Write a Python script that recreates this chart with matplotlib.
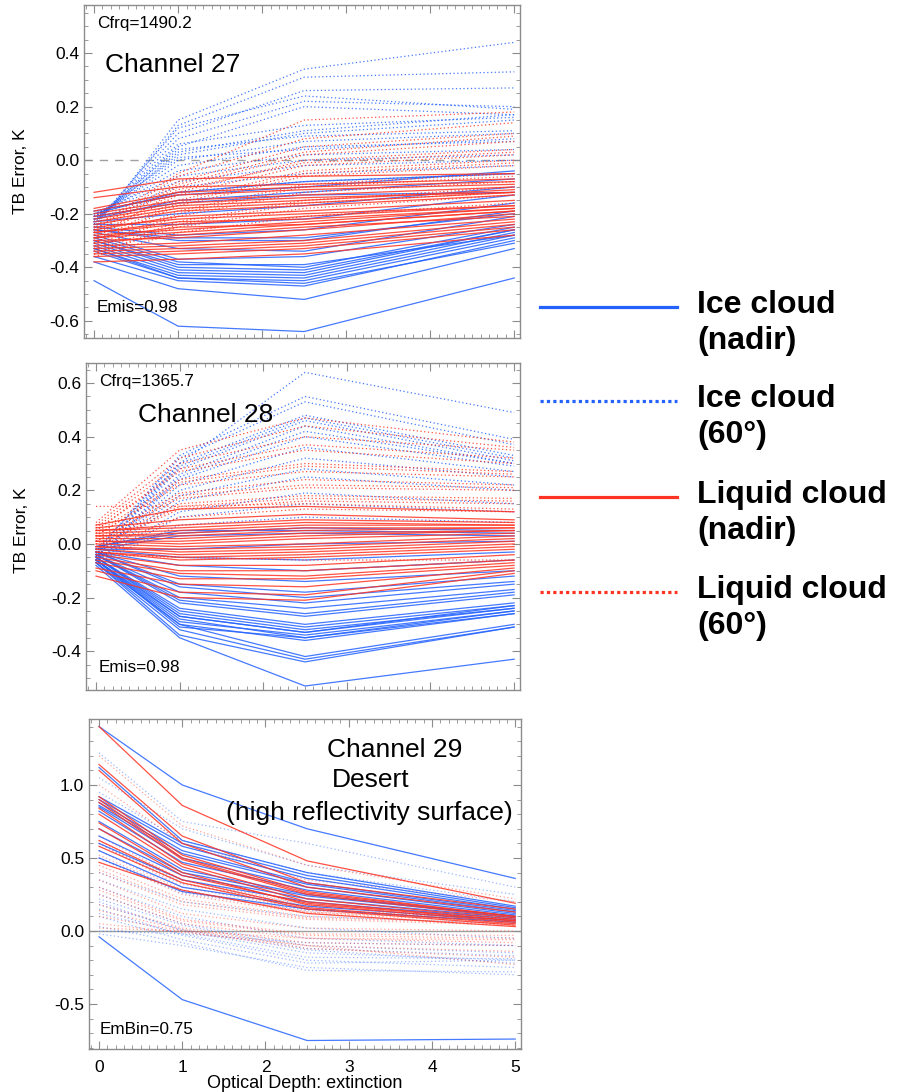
import matplotlib.pyplot as plt
from matplotlib.lines import Line2D
from matplotlib.ticker import MultipleLocator

plt.rcParams['font.family'] = ['Liberation Sans', 'DejaVu Sans']
plt.rcParams['axes.unicode_minus'] = False

# optical depth sample points
depth = [0, 1, 2.5, 5]

# ---- Channel 27 ----
ch27_ice_nadir = [
    [-0.45, -0.62, -0.64, -0.44], [-0.38, -0.48, -0.52, -0.33],
    [-0.36, -0.45, -0.47, -0.30], [-0.34, -0.44, -0.45, -0.29],
    [-0.33, -0.43, -0.44, -0.28], [-0.32, -0.42, -0.43, -0.27],
    [-0.31, -0.41, -0.42, -0.26], [-0.30, -0.40, -0.41, -0.26],
    [-0.29, -0.38, -0.40, -0.25], [-0.28, -0.37, -0.36, -0.24],
    [-0.27, -0.33, -0.34, -0.21], [-0.26, -0.30, -0.30, -0.19],
    [-0.25, -0.28, -0.26, -0.16], [-0.24, -0.24, -0.22, -0.13],
    [-0.23, -0.20, -0.17, -0.10], [-0.22, -0.15, -0.12, -0.07],
    [-0.20, -0.12, -0.08, -0.05], [-0.21, -0.16, -0.13, -0.12],
    [-0.19, -0.13, -0.10, -0.04], [-0.33, -0.44, -0.46, -0.31],
    [-0.30, -0.39, -0.39, -0.28], [-0.26, -0.29, -0.29, -0.20],
]
ch27_ice_60 = [
    [-0.26, 0.15, 0.34, 0.44], [-0.25, 0.13, 0.31, 0.33],
    [-0.24, 0.10, 0.26, 0.27], [-0.24, 0.08, 0.22, 0.20],
    [-0.23, 0.05, 0.20, 0.17], [-0.23, 0.03, 0.11, 0.17],
    [-0.22, 0.02, 0.10, 0.15], [-0.22, 0.00, 0.07, 0.10],
    [-0.21, -0.02, 0.05, 0.07], [-0.21, -0.04, 0.02, 0.04],
    [-0.20, -0.06, 0.00, 0.02], [-0.20, -0.08, -0.02, 0.00],
    [-0.21, -0.10, -0.05, -0.02], [-0.22, -0.12, -0.08, -0.05],
    [-0.24, 0.12, 0.24, 0.19], [-0.23, 0.06, 0.13, 0.16],
    [-0.22, 0.04, 0.09, 0.11], [-0.21, 0.01, 0.04, 0.08],
]
ch27_liq_nadir = [
    [-0.12, -0.07, -0.06, -0.05], [-0.14, -0.10, -0.09, -0.07],
    [-0.18, -0.12, -0.10, -0.08], [-0.20, -0.15, -0.13, -0.10],
    [-0.22, -0.17, -0.15, -0.11], [-0.24, -0.19, -0.17, -0.13],
    [-0.26, -0.21, -0.19, -0.15], [-0.27, -0.24, -0.21, -0.17],
    [-0.28, -0.26, -0.23, -0.18], [-0.29, -0.27, -0.24, -0.19],
    [-0.30, -0.29, -0.26, -0.20], [-0.32, -0.31, -0.28, -0.22],
    [-0.34, -0.33, -0.31, -0.24], [-0.36, -0.35, -0.33, -0.26],
    [-0.38, -0.37, -0.35, -0.28], [-0.31, -0.28, -0.25, -0.21],
    [-0.25, -0.22, -0.20, -0.17], [-0.19, -0.13, -0.11, -0.09],
    [-0.21, -0.16, -0.14, -0.12], [-0.23, -0.18, -0.16, -0.12],
    [-0.27, -0.23, -0.22, -0.18], [-0.29, -0.25, -0.24, -0.19],
    [-0.33, -0.32, -0.30, -0.23], [-0.35, -0.34, -0.32, -0.25],
]
ch27_liq_60 = [
    [-0.25, -0.05, 0.15, 0.18], [-0.26, -0.08, 0.05, 0.10],
    [-0.27, -0.10, 0.02, 0.07], [-0.28, -0.12, 0.00, 0.04],
    [-0.29, -0.13, -0.02, 0.02], [-0.30, -0.15, -0.04, 0.00],
    [-0.31, -0.17, -0.06, -0.02], [-0.32, -0.19, -0.09, -0.05],
    [-0.33, -0.21, -0.12, -0.08], [-0.34, -0.23, -0.15, -0.10],
    [-0.35, -0.25, -0.18, -0.13], [-0.36, -0.27, -0.21, -0.16],
    [-0.26, -0.06, 0.08, 0.14], [-0.27, -0.09, 0.03, 0.09],
    [-0.29, -0.11, -0.01, 0.03], [-0.31, -0.16, -0.05, -0.01],
    [-0.33, -0.20, -0.10, -0.06], [-0.35, -0.24, -0.16, -0.12],
]

# ---- Channel 28 ----
ch28_ice_nadir = [
    [-0.08, -0.35, -0.53, -0.43], [-0.07, -0.34, -0.44, -0.31],
    [-0.07, -0.32, -0.43, -0.31], [-0.07, -0.30, -0.42, -0.30],
    [-0.06, -0.30, -0.36, -0.26], [-0.06, -0.28, -0.35, -0.25],
    [-0.06, -0.27, -0.33, -0.24], [-0.05, -0.26, -0.32, -0.24],
    [-0.05, -0.25, -0.31, -0.23], [-0.05, -0.24, -0.30, -0.22],
    [-0.04, -0.22, -0.27, -0.19], [-0.04, -0.20, -0.24, -0.17],
    [-0.04, -0.18, -0.22, -0.15], [-0.03, -0.15, -0.18, -0.12],
    [-0.03, -0.12, -0.14, -0.10], [-0.03, -0.08, -0.10, -0.06],
    [-0.02, -0.05, -0.06, -0.03], [-0.02, 0.03, 0.04, 0.03],
    [-0.01, 0.04, 0.06, 0.05], [-0.02, -0.02, 0.00, 0.01],
    [-0.06, -0.29, -0.34, -0.25], [-0.05, -0.27, -0.33, -0.23],
    [-0.06, -0.31, -0.35, -0.26], [-0.04, -0.21, -0.26, -0.18],
    [-0.03, -0.16, -0.20, -0.14], [-0.01, 0.05, 0.05, 0.04],
]
ch28_ice_60 = [
    [-0.02, 0.30, 0.64, 0.49], [-0.03, 0.33, 0.55, 0.39],
    [-0.03, 0.32, 0.53, 0.37], [-0.04, 0.30, 0.48, 0.33],
    [-0.04, 0.28, 0.46, 0.31], [-0.05, 0.26, 0.44, 0.30],
    [-0.05, 0.24, 0.40, 0.29], [-0.05, 0.20, 0.32, 0.25],
    [-0.06, 0.16, 0.25, 0.20], [-0.06, 0.12, 0.19, 0.15],
    [-0.06, 0.10, 0.15, 0.12], [-0.07, 0.07, 0.10, 0.08],
    [-0.04, 0.29, 0.47, 0.32], [-0.05, 0.25, 0.42, 0.30],
    [-0.05, 0.22, 0.36, 0.27], [-0.06, 0.18, 0.28, 0.22],
]
ch28_liq_nadir = [
    [0.07, 0.13, 0.14, 0.12], [0.06, 0.09, 0.11, 0.09],
    [0.05, 0.07, 0.09, 0.08], [0.04, 0.05, 0.07, 0.07],
    [0.03, 0.04, 0.06, 0.06], [0.02, 0.02, 0.04, 0.05],
    [0.01, 0.00, 0.02, 0.04], [0.00, -0.01, 0.00, 0.03],
    [-0.01, -0.02, -0.01, 0.02], [-0.02, -0.04, -0.03, 0.00],
    [-0.03, -0.06, -0.05, -0.02], [-0.04, -0.08, -0.08, -0.04],
    [-0.05, -0.10, -0.10, -0.06], [-0.07, -0.13, -0.13, -0.08],
    [-0.09, -0.15, -0.16, -0.09], [-0.10, -0.18, -0.19, -0.10],
    [-0.12, -0.20, -0.21, -0.11], [0.05, 0.06, 0.08, 0.07],
    [0.03, 0.03, 0.05, 0.06], [0.01, 0.01, 0.03, 0.05],
    [-0.01, -0.03, -0.02, 0.01], [-0.03, -0.05, -0.04, -0.01],
    [-0.06, -0.11, -0.12, -0.07],
]
ch28_liq_60 = [
    [0.14, 0.14, 0.15, 0.13], [0.08, 0.35, 0.47, 0.38],
    [0.06, 0.30, 0.40, 0.35], [0.05, 0.27, 0.35, 0.30],
    [0.04, 0.24, 0.30, 0.27], [0.03, 0.22, 0.27, 0.25],
    [0.02, 0.19, 0.24, 0.22], [0.01, 0.17, 0.21, 0.20],
    [0.00, 0.15, 0.18, 0.17], [-0.01, 0.13, 0.16, 0.15],
    [-0.02, 0.10, 0.13, 0.12], [-0.04, -0.05, -0.06, -0.06],
    [0.07, 0.32, 0.44, 0.36], [0.05, 0.28, 0.37, 0.32],
    [0.03, 0.23, 0.29, 0.26], [0.01, 0.18, 0.22, 0.21],
    [-0.01, 0.14, 0.17, 0.16],
]

# ---- Channel 29 (desert) ----
ch29_ice_nadir = [
    [1.40, 1.00, 0.70, 0.36], [1.12, 0.62, 0.40, 0.17],
    [0.90, 0.58, 0.36, 0.15], [0.88, 0.55, 0.33, 0.14],
    [0.85, 0.50, 0.30, 0.12], [0.82, 0.47, 0.28, 0.11],
    [0.75, 0.42, 0.25, 0.10], [0.65, 0.38, 0.22, 0.09],
    [0.60, 0.35, 0.20, 0.08], [0.55, 0.30, 0.17, 0.07],
    [0.50, 0.27, 0.15, 0.06], [-0.04, -0.47, -0.75, -0.74],
    [0.92, 0.60, 0.38, 0.16], [0.86, 0.53, 0.32, 0.13],
    [0.70, 0.40, 0.24, 0.10],
]
ch29_ice_60 = [
    [1.22, 0.75, 0.60, 0.30], [1.05, 0.70, 0.45, 0.25],
    [0.95, 0.62, 0.40, 0.20], [0.40, 0.20, 0.10, 0.05],
    [0.30, 0.10, -0.05, -0.10], [0.25, 0.05, -0.10, -0.15],
    [0.20, 0.00, -0.15, -0.20], [0.15, -0.03, -0.20, -0.25],
    [0.10, -0.06, -0.22, -0.20], [0.03, -0.08, -0.27, -0.28],
    [0.00, -0.02, -0.08, -0.10], [-0.02, -0.10, -0.25, -0.30],
    [0.60, 0.32, 0.18, 0.10], [0.50, 0.26, 0.14, 0.08],
    [0.35, 0.15, 0.02, -0.05], [0.22, 0.04, -0.12, -0.17],
    [0.18, 0.01, -0.13, -0.22], [0.12, -0.02, -0.18, -0.19],
]
ch29_liq_nadir = [
    [1.40, 0.86, 0.48, 0.19], [1.14, 0.65, 0.33, 0.15],
    [1.10, 0.60, 0.30, 0.13], [0.92, 0.52, 0.27, 0.10],
    [0.88, 0.49, 0.25, 0.09], [0.84, 0.46, 0.22, 0.08],
    [0.80, 0.44, 0.20, 0.07], [0.74, 0.40, 0.18, 0.06],
    [0.62, 0.35, 0.16, 0.05], [0.58, 0.33, 0.15, 0.04],
    [0.47, 0.28, 0.12, 0.03], [0.90, 0.50, 0.26, 0.10],
    [0.70, 0.38, 0.19, 0.07],
]
ch29_liq_60 = [
    [1.20, 0.72, 0.45, 0.22], [1.00, 0.60, 0.35, 0.20],
    [0.65, 0.35, 0.18, 0.10], [0.60, 0.30, 0.15, 0.08],
    [0.55, 0.28, 0.13, 0.07], [0.50, 0.25, 0.12, 0.06],
    [0.45, 0.22, 0.10, 0.05], [0.40, 0.18, 0.08, 0.04],
    [0.35, 0.12, 0.02, 0.00], [0.30, 0.08, -0.02, -0.03],
    [0.25, 0.05, -0.05, -0.06], [0.18, 0.02, -0.08, -0.10],
    [0.10, 0.00, -0.12, -0.18], [0.05, -0.01, -0.10, -0.23],
    [0.02, 0.00, -0.05, -0.08], [0.62, 0.33, 0.17, 0.09],
    [0.52, 0.27, 0.13, 0.07], [0.42, 0.20, 0.09, 0.05],
    [0.28, 0.07, -0.03, -0.05], [0.14, 0.01, -0.10, -0.14],
]

legend_labels = ["Ice cloud\n(nadir)", "Ice cloud\n(60°)",
                 "Liquid cloud\n(nadir)", "Liquid cloud\n(60°)"]

BLUE = "#2462ff"
RED = "#ff3322"
FRAME = "#8c8c8c"
DOT = (0, (1, 2))

fig = plt.figure(figsize=(9.03, 10.92), dpi=100)

ax1 = fig.add_axes([0.093, 0.6905, 0.483, 0.305])
ax2 = fig.add_axes([0.0952, 0.3681, 0.4806, 0.2995])
ax3 = fig.add_axes([0.0986, 0.0394, 0.4784, 0.3022])


def draw_group(ax, rows, color, style, alpha):
    for r in rows:
        ax.plot(depth, r, color=color, ls=style, lw=0.9, alpha=alpha)


def style_axes(ax, ylim, ymaj, ymin, xlabels):
    ax.set_xlim(-0.12, 5.07)
    ax.set_ylim(*ylim)
    ax.xaxis.set_major_locator(MultipleLocator(1))
    ax.xaxis.set_minor_locator(MultipleLocator(0.1))
    ax.yaxis.set_major_locator(MultipleLocator(ymaj))
    ax.yaxis.set_minor_locator(MultipleLocator(ymin))
    ax.tick_params(which="both", direction="in", top=True, right=True,
                   color=FRAME, labelsize=12.5)
    ax.tick_params(which="major", length=6)
    ax.tick_params(which="minor", length=3)
    ax.tick_params(axis="x", pad=8)
    if not xlabels:
        ax.tick_params(axis="x", labelbottom=False)
    for s in ax.spines.values():
        s.set_color(FRAME)
        s.set_linewidth(1)


# panel 1
ax1.axhline(0, color="#a0a0a0", lw=1, ls=(0, (6, 5)), zorder=0)
draw_group(ax1, ch27_ice_nadir, BLUE, "-", 0.85)
draw_group(ax1, ch27_ice_60, BLUE, DOT, 0.85)
draw_group(ax1, ch27_liq_nadir, RED, "-", 0.85)
draw_group(ax1, ch27_liq_60, RED, DOT, 0.85)
style_axes(ax1, (-0.664, 0.58), 0.2, 0.05, False)
ax1.set_ylabel("TB Error, K", fontsize=12.5)
ax1.yaxis.set_label_coords(-0.128, 0.5)
ax1.text(0.03, 0.943, "Cfrq=1490.2", transform=ax1.transAxes,
         fontsize=12.3, va="center")
ax1.text(0.048, 0.82, "Channel 27", transform=ax1.transAxes,
         fontsize=19, va="center")
ax1.text(0.03, 0.09, "Emis=0.98", transform=ax1.transAxes,
         fontsize=12.3, va="center")

# panel 2
draw_group(ax2, ch28_ice_nadir, BLUE, "-", 0.85)
draw_group(ax2, ch28_ice_60, BLUE, DOT, 0.85)
draw_group(ax2, ch28_liq_nadir, RED, "-", 0.85)
draw_group(ax2, ch28_liq_60, RED, DOT, 0.85)
style_axes(ax2, (-0.545, 0.675), 0.2, 0.05, False)
ax2.set_ylabel("TB Error, K", fontsize=12.5)
ax2.yaxis.set_label_coords(-0.132, 0.49)
ax2.text(0.03, 0.942, "Cfrq=1365.7", transform=ax2.transAxes,
         fontsize=12.3, va="center")
ax2.text(0.12, 0.841, "Channel 28", transform=ax2.transAxes,
         fontsize=19, va="center")
ax2.text(0.03, 0.07, "Emis=0.98", transform=ax2.transAxes,
         fontsize=12.3, va="center")

# panel 3
ax3.axhline(0, color="#a0a0a0", lw=1, zorder=0)
draw_group(ax3, ch29_ice_60, BLUE, DOT, 0.45)
draw_group(ax3, ch29_liq_60, RED, DOT, 0.45)
draw_group(ax3, ch29_ice_nadir, BLUE, "-", 0.85)
draw_group(ax3, ch29_liq_nadir, RED, "-", 0.85)
style_axes(ax3, (-0.808, 1.452), 0.5, 0.1, True)
ax3.set_xlabel("Optical Depth: extinction", fontsize=13)
ax3.xaxis.set_label_coords(0.5, -0.078)
ax3.text(0.708, 0.906, "Channel 29", transform=ax3.transAxes,
         fontsize=19, ha="center", va="center")
ax3.text(0.652, 0.815, "Desert", transform=ax3.transAxes,
         fontsize=19, ha="center", va="center")
ax3.text(0.65, 0.715, "(high reflectivity surface)", transform=ax3.transAxes,
         fontsize=19, ha="center", va="center")
ax3.text(0.025, 0.058, "EmBin=0.75", transform=ax3.transAxes,
         fontsize=12.3, va="center")

# legend on the right
leg_styles = [(BLUE, "-"), (BLUE, (0, (1, 1))), (RED, "-"), (RED, (0, (1, 1)))]
leg_y = [307, 401, 497, 592]
for (c, ls), yy, lab in zip(leg_styles, leg_y, legend_labels):
    yf = 1 - yy / 1092
    fig.add_artist(Line2D([540 / 903, 677 / 903], [yf, yf], color=c,
                          ls=ls, lw=2.3, transform=fig.transFigure))
    fig.text(697 / 903, yf + 0.016, lab, fontsize=23, fontweight="bold",
             va="top", linespacing=1.28)

fig.savefig("out.png", dpi=100)
